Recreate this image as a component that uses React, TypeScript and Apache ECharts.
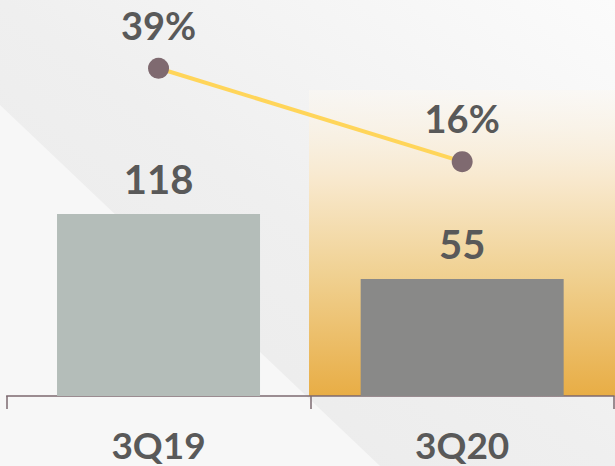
import React, { useEffect, useRef } from "react";
import * as echarts from "echarts";

const categories = ["3Q19", "3Q20"];
const barValues = [118, 55];
const percentValues = [39, 16];
const barColors = ["#b4bdb9", "#898988"];

export default function App() {
  const ref = useRef<HTMLDivElement>(null);
  useEffect(() => {
    if (!ref.current) return;
    const chart = echarts.init(ref.current, null, { renderer: "svg" });
    const font = "Lato";
    const textColor = "#595959";
    chart.setOption({
      animation: false,
      graphic: [
        { type: "rect", z: -10, shape: { x: 0, y: 0, width: 615, height: 466 }, style: { fill: "#f7f7f7" } },
        {
          type: "polygon",
          z: -9,
          shape: { points: [[0, 0], [615, 0], [615, 466], [380, 466], [0, 105]] },
          style: {
            fill: new echarts.graphic.LinearGradient(1, 0, 0, 1, [
              { offset: 0, color: "#fbfbfb" },
              { offset: 0.5, color: "#efefef" },
              { offset: 1, color: "#e9e9e9" },
            ]),
          },
        },
        {
          type: "rect",
          z: -8,
          shape: { x: 309, y: 90, width: 306, height: 306 },
          style: {
            fill: new echarts.graphic.LinearGradient(0, 0, 0, 1, [
              { offset: 0, color: "rgba(251,248,243,0.6)" },
              { offset: 0.3, color: "#f8e8cc" },
              { offset: 0.6, color: "#f0d192" },
              { offset: 1, color: "#e8ad45" },
            ]),
          },
        },
      ],
      grid: { left: 6.7, right: 1, top: 0, bottom: 70, outerBoundsMode: "none", containLabel: false },
      xAxis: {
        type: "category",
        data: categories,
        boundaryGap: true,
        axisLine: { show: true, onZero: false, lineStyle: { color: "#7d6a70", width: 1.5 } },
        axisTick: { show: true, length: 13, lineStyle: { color: "#7d6a70", width: 1.5 } },
        axisLabel: { color: textColor, fontSize: 37, lineHeight: 36, fontWeight: "bold", fontFamily: font, margin: 30 },
        splitLine: { show: false },
      },
      yAxis: [
        { type: "value", min: -58.4, max: 325.4, startValue: -58.4, show: false, splitLine: { show: false } },
        { type: "value", min: -41.7, max: 55.8, show: false, splitLine: { show: false } },
      ],
      series: [
        {
          type: "bar",
          data: barValues.map((v, i) => ({ value: v, itemStyle: { color: barColors[i] } })),
          barWidth: 203,
          z: 2,
          label: {
            show: true,
            position: "top",
            distance: 15,
            color: textColor,
            fontSize: 40,
            fontWeight: "bold",
            fontFamily: font,
          },
        },
        {
          type: "line",
          yAxisIndex: 1,
          data: percentValues,
          z: 3,
          symbol: "circle",
          symbolSize: 21,
          lineStyle: { color: "#ffd55a", width: 4 },
          itemStyle: { color: "#7f6a70" },
          label: {
            show: true,
            position: "top",
            distance: 14,
            formatter: "{c}%",
            color: textColor,
            fontSize: 38,
            fontWeight: "bold",
            fontFamily: font,
          },
        },
      ],
    });
    return () => chart.dispose();
  }, []);
  return <div ref={ref} style={{ position: "absolute", left: 0, top: 0, width: 615, height: 466 }} />;
}
